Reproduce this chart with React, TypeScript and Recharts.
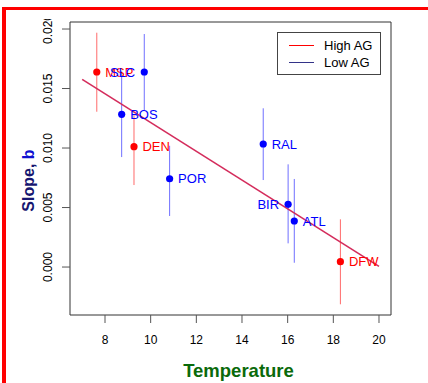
import React from 'react';
import { ComposedChart, Scatter, ErrorBar, XAxis, YAxis, ReferenceLine, ReferenceArea, Label } from 'recharts';

// city sites
const cities = ['MSP', 'SLC', 'BOS', 'DEN', 'POR', 'RAL', 'BIR', 'ATL', 'DFW'];
const groups = ['High', 'Low', 'Low', 'High', 'Low', 'Low', 'Low', 'Low', 'High'];
const temps = [7.64, 9.72, 8.73, 9.27, 10.83, 14.93, 16.02, 16.29, 18.31];
const slopes = [0.01639, 0.01639, 0.01283, 0.01011, 0.00742, 0.01034, 0.00527, 0.00387, 0.00045];
const upper = [0.01969, 0.01958, 0.01645, 0.01277, 0.01019, 0.01334, 0.00863, 0.0074, 0.00401];
const lower = [0.01305, 0.01319, 0.00924, 0.00689, 0.00429, 0.00731, 0.00199, 0.00036, -0.00313];
const labelSide = ['right', 'left', 'right', 'right', 'right', 'right', 'left', 'right', 'right'];

// fitted line end points
const fitX = [7, 20];
const fitY = [0.01577, 0.00006];

const xTicks = [8, 10, 12, 14, 16, 18, 20];
const yTicks = [0, 0.005, 0.01, 0.015, 0.02];
const xDomain = [6.467, 20.526];
const yDomain = [-0.00403, 0.02059];

const legendItems = ['High AG', 'Low AG'];

const RED = '#ff0000';
const BLUE = '#0000ff';
const FONT = '"Liberation Sans", Arial, Helvetica, sans-serif';

const points = cities.map((city, i) => ({
  city,
  group: groups[i],
  temp: temps[i],
  slope: slopes[i],
  err: [slopes[i] - lower[i], upper[i] - slopes[i]],
  side: labelSide[i],
}));

const highPts = points.filter((p) => p.group === 'High');
const lowPts = points.filter((p) => p.group === 'Low');

// dot plus its city label
const makeShape = (color: string) => (props: any) => {
  const { cx, cy, payload } = props;
  const left = payload.side === 'left';
  return (
    <g>
      <circle cx={cx} cy={cy} r={3.6} fill={color} />
      <text
        x={left ? cx - 9 : cx + 8.5}
        y={cy}
        dy="0.36em"
        textAnchor={left ? 'end' : 'start'}
        fill={color}
        fontSize={13}
        fontFamily={FONT}
      >
        {payload.city}
      </text>
    </g>
  );
};

const YTick = (props: any) => {
  const { x, y, payload } = props;
  const bx = x - 8;
  return (
    <text x={bx} y={y} transform={`rotate(-90, ${bx}, ${y})`} textAnchor="middle" fontSize={12} fontFamily={FONT} fill="#000">
      {payload.value.toFixed(3)}
    </text>
  );
};

const XTick = (props: any) => {
  const { x, y, payload } = props;
  return (
    <text x={x} y={y + 19} textAnchor="middle" fontSize={12} fontFamily={FONT} fill="#000">
      {payload.value}
    </text>
  );
};

export default function App() {
  return (
    <div style={{ position: 'absolute', left: 0, top: 0, width: 428, height: 383, background: '#fff', overflow: 'hidden' }}>
      <div style={{ position: 'absolute', left: 2, top: 7, width: 426, height: 3, background: RED }} />
      <div style={{ position: 'absolute', left: 2, top: 7, width: 4, height: 376, background: RED }} />

      <div style={{ position: 'absolute', left: 0, top: 19, width: 428, height: 364, overflow: 'hidden' }}>
        <ComposedChart width={428} height={364} margin={{ top: 3, right: 37, bottom: 0, left: 0 }}>
          <XAxis
            type="number"
            dataKey="temp"
            domain={xDomain}
            ticks={xTicks}
            allowDataOverflow
            height={68}
            axisLine={false}
            tickLine={{ stroke: '#555' }}
            tickSize={8}
            tick={<XTick />}
          >
            <Label
              content={() => (
                <text x={238.5} y={357.5} textAnchor="middle" fontSize={18.5} fontWeight="bold" fontFamily={FONT} fill="#0a6a0a">
                  Temperature
                </text>
              )}
            />
          </XAxis>
          <YAxis
            type="number"
            dataKey="slope"
            domain={yDomain}
            ticks={yTicks}
            allowDataOverflow
            width={70}
            axisLine={false}
            tickLine={{ stroke: '#555' }}
            tickSize={8}
            tick={<YTick />}
          >
            <Label
              content={() => (
                <text
                  x={34}
                  y={161.5}
                  transform="rotate(-90, 34, 161.5)"
                  textAnchor="middle"
                  fontSize={16}
                  fontWeight="bold"
                  fontFamily={FONT}
                >
                  <tspan fill="#161670">Slope, </tspan>
                  <tspan fill="#1010d0">b</tspan>
                </text>
              )}
            />
          </YAxis>

          <ReferenceArea
            x1={xDomain[0]}
            x2={xDomain[1]}
            y1={yDomain[0]}
            y2={yDomain[1]}
            fill="none"
            fillOpacity={0}
            stroke="#333"
            strokeWidth={1}
          />

          <Scatter data={highPts} fill={RED} shape={makeShape(RED)} isAnimationActive={false}>
            <ErrorBar dataKey="err" direction="y" width={0} stroke="#ff6a6a" strokeWidth={1} />
          </Scatter>
          <Scatter data={lowPts} fill={BLUE} shape={makeShape(BLUE)} isAnimationActive={false}>
            <ErrorBar dataKey="err" direction="y" width={0} stroke="#7070ff" strokeWidth={1} />
          </Scatter>

          <ReferenceLine
            segment={[
              { x: fitX[0], y: fitY[0] },
              { x: fitX[1], y: fitY[1] },
            ]}
            stroke="#d42c5c"
            strokeWidth={1.6}
          />
        </ComposedChart>
      </div>

      <div
        style={{
          position: 'absolute',
          left: 277,
          top: 32,
          width: 104,
          height: 43,
          boxSizing: 'border-box',
          border: '1px solid #444',
          background: '#fff',
          fontFamily: FONT,
          fontSize: 13,
        }}
      >
        {legendItems.map((name, i) => (
          <div key={name} style={{ position: 'absolute', left: 0, top: 4 + i * 16.7, height: 17, width: 102 }}>
            <div style={{ position: 'absolute', left: 11, top: 8, width: 25, height: 1, background: i === 0 ? RED : '#333388' }} />
            <div style={{ position: 'absolute', left: 46, top: 0, lineHeight: '17px', color: '#000' }}>{name}</div>
          </div>
        ))}
      </div>
    </div>
  );
}
